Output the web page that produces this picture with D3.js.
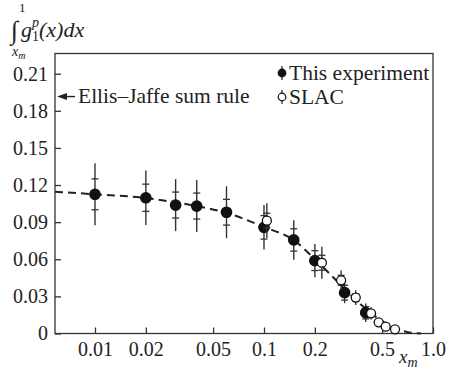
<!DOCTYPE html>
<html>
<head>
<meta charset="utf-8">
<script src="https://cdn.jsdelivr.net/npm/d3@7"></script>
</head>
<body style="margin:0">
<div id="chart"></div>
<script>
// This experiment (filled)
const expX = [0.01, 0.02, 0.03, 0.04, 0.06, 0.1, 0.15, 0.2, 0.3, 0.4];
const expY = [0.1125, 0.1097, 0.1038, 0.103, 0.098, 0.0858, 0.0756, 0.0589, 0.033, 0.0168];
const expStat = [0.0125, 0.011, 0.0105, 0.0105, 0.0104, 0.0095, 0.009, 0.008, 0.006, 0.005];
const expTot = [0.025, 0.022, 0.021, 0.021, 0.021, 0.018, 0.016, 0.0135, 0.0085, 0.0075];

// SLAC (open)
const slacX = [0.104, 0.22, 0.286, 0.349, 0.43, 0.477, 0.525, 0.596];
const slacY = [0.0912, 0.0572, 0.043, 0.029, 0.0163, 0.009, 0.0055, 0.0034];
const slacStat = [0.006, 0.006, 0.004, 0.003, 0.002, 0, 0, 0];
const slacTot = [0.014, 0.013, 0.008, 0.006, 0.005, 0.002, 0, 0];

// dashed curve
const fitX = [0.0058, 0.01, 0.02, 0.03, 0.04, 0.06, 0.1, 0.15, 0.2, 0.25, 0.3, 0.4, 0.5, 0.6, 0.7, 0.85];
const fitY = [0.1146, 0.1125, 0.1095, 0.106, 0.103, 0.0975, 0.086, 0.0755, 0.06, 0.047, 0.036, 0.02, 0.01, 0.004, 0.0012, 0];

const xTicks = [0.01, 0.02, 0.05, 0.1, 0.2, 0.5, 1.0];
const xTickLabels = ["0.01", "0.02", "0.05", "0.1", "0.2", "0.5", "1.0"];
const yTicks = [0, 0.03, 0.06, 0.09, 0.12, 0.15, 0.18, 0.21];
const ellisJaffe = 0.1915;

const width = 450, height = 375;
const margin = { top: 53.5, right: 17, bottom: 41.5, left: 55 };

const svg = d3.select("#chart")
  .append("svg")
  .attr("width", width)
  .attr("height", height);

const x = d3.scaleLog()
  .domain([0.0058, 1.0])
  .range([margin.left, width - margin.right]);

const y = d3.scaleLinear()
  .domain([0, 0.2263])
  .range([height - margin.bottom, margin.top]);

const ink = "#333";

// axes with inside ticks
const yAxis = svg.append("g")
  .attr("transform", `translate(${margin.left},0)`)
  .call(d3.axisLeft(y).tickValues(yTicks).tickSize(-6).tickPadding(7)
    .tickFormat(d => d === 0 ? "0" : d.toFixed(2)));

const xAxis = svg.append("g")
  .attr("transform", `translate(0,${height - margin.bottom})`)
  .call(d3.axisBottom(x).tickValues(xTicks).tickSize(-6).tickPadding(8)
    .tickFormat((d, i) => xTickLabels[i]));

[xAxis, yAxis].forEach(g => {
  g.attr("font-family", null).attr("font-size", null);
  g.select(".domain").remove();
  g.selectAll("line").attr("stroke", ink).attr("stroke-width", 1.3);
  g.selectAll("text").attr("font-size", 20);
});

// frame
svg.append("rect")
  .attr("x", margin.left)
  .attr("y", margin.top)
  .attr("width", width - margin.left - margin.right)
  .attr("height", height - margin.top - margin.bottom)
  .attr("fill", "none")
  .attr("stroke", ink)
  .attr("stroke-width", 1.3);

// dashed curve
const fit = fitX.map((d, i) => ({ x: d, y: fitY[i] }));
const line = d3.line()
  .x(d => x(d.x))
  .y(d => y(d.y))
  .curve(d3.curveMonotoneX);

svg.append("path")
  .datum(fit)
  .attr("d", line)
  .attr("fill", "none")
  .attr("stroke", "#222")
  .attr("stroke-width", 2)
  .attr("stroke-dasharray", "8,5");

// error bars + markers
function drawPoints(xs, ys, stat, tot, filled) {
  xs.forEach((xv, i) => {
    const cx = x(xv), cy = y(ys[i]);
    if (tot[i] > 0) {
      svg.append("line")
        .attr("x1", cx).attr("x2", cx)
        .attr("y1", y(ys[i] + tot[i])).attr("y2", y(ys[i] - tot[i]))
        .attr("stroke", ink).attr("stroke-width", 1.4);
    }
    if (stat[i] > 0) {
      [ys[i] + stat[i], ys[i] - stat[i]].forEach(v => {
        svg.append("line")
          .attr("x1", cx - 3.5).attr("x2", cx + 3.5)
          .attr("y1", y(v)).attr("y2", y(v))
          .attr("stroke", ink).attr("stroke-width", 1.3);
      });
    }
    svg.append("circle")
      .attr("cx", cx).attr("cy", cy)
      .attr("r", filled ? 5.2 : 4.5)
      .attr("fill", filled ? "#111" : "#fff")
      .attr("stroke", "#111")
      .attr("stroke-width", 1.3);
  });
}

drawPoints(expX, expY, expStat, expTot, true);
drawPoints(slacX, slacY, slacStat, slacTot, false);

// legend
const legend = svg.append("g").attr("transform", "translate(282,73)");
[["This experiment", true], ["SLAC", false]].forEach(([label, filled], i) => {
  const gy = i * 24;
  legend.append("line")
    .attr("x1", 0).attr("x2", 0)
    .attr("y1", gy - 7).attr("y2", gy + 7)
    .attr("stroke", ink).attr("stroke-width", 1.3);
  legend.append("circle")
    .attr("cx", 0).attr("cy", gy)
    .attr("r", 3.8)
    .attr("fill", filled ? "#111" : "#fff")
    .attr("stroke", "#111").attr("stroke-width", 1.2);
  legend.append("text")
    .attr("x", 7)
    .attr("y", gy + 7)
    .attr("font-size", 21.5)
    .text(label);
});

// Ellis-Jaffe arrow
const ejY = y(ellisJaffe);
svg.append("line")
  .attr("x1", margin.left + 8).attr("x2", margin.left + 20)
  .attr("y1", ejY).attr("y2", ejY)
  .attr("stroke", "#222").attr("stroke-width", 1.4);
svg.append("path")
  .attr("d", `M${margin.left + 2},${ejY} L${margin.left + 12},${ejY - 3.5} L${margin.left + 12},${ejY + 3.5} Z`)
  .attr("fill", "#222");
svg.append("text")
  .attr("x", margin.left + 23)
  .attr("y", ejY + 6.5)
  .attr("font-size", 21.5)
  .text("Ellis–Jaffe sum rule");

// y-axis title: integral from x_m to 1 of g1^p(x)dx
const title = svg.append("g");
title.append("text")
  .attr("x", 11).attr("y", 39)
  .attr("font-size", 26)
  .text("∫");
title.append("text")
  .attr("x", 19).attr("y", 12)
  .attr("font-size", 13)
  .text("1");
const xm = title.append("text")
  .attr("x", 12).attr("y", 56)
  .attr("font-size", 14)
  .attr("font-style", "italic");
xm.append("tspan").text("x");
xm.append("tspan").attr("dy", 3).attr("font-size", 10).text("m");

const gt = title.append("text")
  .attr("x", 21).attr("y", 37)
  .attr("font-size", 22)
  .attr("font-style", "italic");
gt.append("tspan").text("g");
gt.append("tspan").attr("dy", 4).attr("font-size", 14).attr("font-style", "normal").text("1");
gt.append("tspan").attr("dx", -7).attr("dy", -14).attr("font-size", 14).text("p");
gt.append("tspan").attr("dy", 10).text("(x)dx");

// x-axis title
const xt = svg.append("text")
  .attr("x", 399).attr("y", 363)
  .attr("font-size", 19)
  .attr("font-style", "italic");
xt.append("tspan").text("x");
xt.append("tspan").attr("dy", 4).attr("font-size", 14).text("m");

// all text in a Times-like face
svg.selectAll("text")
  .attr("font-family", "Liberation Serif")
  .attr("fill", "#222");
</script>
</body>
</html>
